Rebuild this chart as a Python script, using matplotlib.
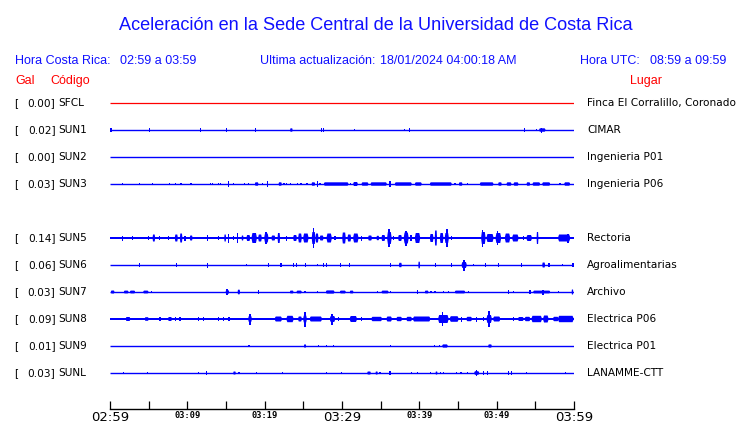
import matplotlib
matplotlib.use("Agg")
import matplotlib.pyplot as plt
from matplotlib.patches import Polygon

# ---------------- data ----------------
title = "Aceleración en la Sede Central de la Universidad de Costa Rica"
hora_cr = "02:59 a 03:59"
actualizacion = "18/01/2024 04:00:18 AM"
hora_utc = "08:59 a 09:59"

codes = ["SFCL", "SUN1", "SUN2", "SUN3", "SUN5", "SUN6", "SUN7", "SUN8", "SUN9", "SUNL"]
gal = [0.00, 0.02, 0.00, 0.03, 0.14, 0.06, 0.03, 0.09, 0.01, 0.03]
places = ["Finca El Corralillo, Coronado", "CIMAR", "Ingenieria P01", "Ingenieria P06",
          "Rectoria", "Agroalimentarias", "Archivo", "Electrica P06", "Electrica P01", "LANAMME-CTT"]
slots = [0, 1, 2, 3, 5, 6, 7, 8, 9, 10]          # SUN4 row is empty
trace_colors = ["#ff0000"] + ["#0000ff"] * 9
noise = [0, 0, 0, 0, 1.4, 0, 0, 1.4, 0, 0]        # background noise band (half width)

tick_minutes = list(range(0, 61, 5))
tick_labels = ["02:59", "", "03:09", "", "03:19", "", "03:29", "", "03:39", "", "03:49", "", "03:59"]
major_labels = ["02:59", "03:29", "03:59"]

# events: (start minute, end minute, half amplitude)
ev_SFCL = []
ev_SUN1 = [(0.13, 0.13, 1.7), (5.08, 5.08, 1.7), (11.73, 11.73, 1.7), (15.04, 15.04, 1.7),
           (18.79, 18.79, 1.7), (23.3, 23.6, 1.7), (27.37, 27.37, 1.7), (27.58, 27.58, 1.7),
           (31.59, 31.59, 1.4), (38.05, 38.05, 1.0), (38.70, 38.70, 1.7), (53.57, 53.57, 1.7),
           (55.17, 55.17, 1.4), (55.5, 56.3, 1.7), (55.8, 55.8, 2.5)]
ev_SUN2 = []
ev_SUN3 = [(1.60, 1.60, 1.0), (3.79, 3.79, 1.4), (5.47, 5.47, 0.8), (7.67, 7.67, 0.8), (8.49, 8.49, 1.4),
           (9.18, 9.18, 1.4), (10.47, 10.47, 1.4), (12.97, 12.97, 1.0), (13.23, 13.23, 1.0),
           (14.01, 14.01, 1.4), (14.31, 14.31, 1.4), (15.30, 15.30, 2.7), (15.95, 15.95, 1.4),
           (17.37, 17.37, 1.4), (17.89, 17.89, 1.4), (18.75, 19.18, 1.7), (19.74, 19.74, 1.4),
           (20.35, 20.35, 2.7), (21.81, 22.20, 1.7), (22.50, 22.50, 1.4), (22.84, 22.84, 1.4),
           (23.32, 23.32, 0.8), (24.22, 24.22, 1.0), (24.70, 24.70, 1.4), (25.47, 25.47, 1.4),
           (26.08, 26.51, 1.7), (26.81, 26.81, 2.7), (27.15, 27.15, 1.4), (27.67, 30.82, 1.7),
           (31.12, 31.12, 1.4), (31.46, 32.03, 2.0), (32.54, 33.40, 1.7), (33.71, 35.78, 1.7),
           (36.21, 36.21, 2.7), (36.85, 39.01, 1.7), (39.44, 40.30, 1.7), (41.38, 44.18, 1.7),
           (44.61, 44.61, 1.0), (45.13, 45.56, 1.7), (46.25, 46.25, 0.8), (47.84, 49.57, 1.7),
           (50.21, 50.64, 1.7), (51.29, 51.90, 1.7), (52.20, 52.80, 1.7), (53.88, 54.31, 1.7),
           (54.65, 55.60, 1.7), (55.90, 56.90, 1.7), (58.19, 58.19, 1.4), (58.75, 59.48, 1.7)]
ev_SUN5 = [(1.59, 1.59, 2.5), (2.89, 2.89, 1.8), (4.96, 4.96, 2.2), (5.52, 5.82, 3.5), (6.38, 6.38, 2.2),
           (7.54, 7.54, 1.8), (8.40, 8.75, 3.5), (9.05, 9.35, 4.5), (9.70, 9.70, 2.5),
           (10.34, 10.65, 2.5), (12.59, 12.59, 3), (14.01, 14.01, 2.2), (14.78, 15.00, 3.5),
           (15.30, 15.43, 4.5), (15.95, 15.95, 2.2), (16.47, 16.59, 5), (17.03, 17.24, 2.5),
           (17.67, 18.10, 3), (18.32, 18.97, 5), (19.18, 19.61, 3.5), (19.96, 20.47, 4.5),
           (20.2, 20.2, 6), (20.90, 21.34, 2.5), (21.68, 21.98, 5), (22.84, 22.84, 2.5),
           (23.71, 24.14, 3), (24.35, 24.78, 4.5), (25.00, 25.65, 4.5), (26.10, 26.55, 6),
           (26.3, 26.3, 10), (26.59, 26.94, 4.5), (27.15, 27.58, 2.5), (28.02, 28.66, 4.5),
           (29.09, 29.09, 2.2), (30.04, 30.47, 5.5), (30.73, 31.16, 3.5), (31.46, 32.11, 4.5),
           (32.54, 32.54, 2.5), (33.40, 33.84, 2.5), (34.48, 34.78, 2.2), (35.13, 35.56, 3),
           (35.85, 36.40, 6), (36.1, 36.1, 9), (36.64, 36.64, 2.2), (37.28, 37.72, 3),
           (38.00, 38.60, 5.5), (38.3, 38.3, 7.5), (38.92, 38.92, 3), (39.44, 40.09, 5),
           (41.38, 41.81, 4), (42.00, 42.28, 7.5), (42.67, 43.10, 5), (43.30, 43.80, 5),
           (43.55, 43.55, 9), (44.18, 44.18, 2.2), (48.00, 48.55, 6), (48.2, 48.2, 8.5),
           (48.71, 49.57, 4), (49.87, 50.56, 5), (50.1, 50.1, 7), (51.08, 51.72, 4.5),
           (52.03, 52.80, 3.5), (53.45, 53.45, 2.2), (53.88, 54.53, 3), (55.17, 55.39, 6),
           (57.97, 59.48, 3.5), (59.2, 59.2, 4.5)]
ev_SUN6 = [(3.79, 3.79, 2), (8.62, 8.62, 2), (12.59, 12.59, 2.5), (17.67, 17.67, 1),
           (20.47, 20.47, 2.2), (22.11, 22.11, 2.2), (23.71, 23.71, 2), (24.14, 24.14, 2),
           (25.26, 25.26, 2), (26.81, 26.81, 1), (27.58, 27.58, 2), (28.02, 28.02, 2),
           (29.83, 29.83, 2), (30.99, 30.99, 2), (36.29, 36.29, 2), (37.37, 37.72, 2.2),
           (39.87, 40.09, 3.3), (42.07, 42.07, 2), (44.18, 44.18, 2.2), (45.47, 46.12, 3),
           (45.75, 45.75, 5.5), (46.98, 46.98, 1.2), (48.58, 48.58, 2), (50.21, 50.21, 2),
           (53.23, 53.23, 2.2), (55.90, 56.25, 2.5), (56.77, 56.77, 2.2), (58.49, 58.49, 1.2),
           (59.85, 59.85, 2.2)]
ev_SUN7 = [(0.13, 0.56, 1.5), (1.81, 2.37, 1.4), (2.59, 3.23, 1.4), (4.31, 4.96, 1.4),
           (5.39, 5.39, 1.0), (14.96, 15.39, 1.8), (15.1, 15.1, 2.7), (16.51, 16.81, 2.3),
           (19.18, 19.18, 1.6), (23.28, 23.71, 1.4), (24.14, 24.78, 1.4), (25.22, 25.22, 1.4),
           (26.81, 26.81, 1.4), (27.93, 29.01, 1.6), (29.74, 30.47, 1.4), (31.03, 31.46, 1.4),
           (34.61, 34.61, 0.8), (35.13, 36.00, 1.4), (36.29, 36.29, 1.0), (39.74, 39.74, 1.6),
           (40.73, 41.16, 1.4), (41.51, 41.51, 0.8), (42.03, 42.03, 1.4), (43.10, 43.10, 0.8),
           (43.75, 43.75, 1.0), (44.61, 45.90, 1.4), (46.33, 46.33, 1.0), (51.51, 51.51, 2.3),
           (52.15, 52.15, 0.8), (54.31, 54.31, 1.6), (54.74, 56.90, 1.4), (55.98, 55.98, 2.5),
           (57.97, 57.97, 0.8), (59.70, 59.90, 2.5)]
ev_SUN8 = [(2.07, 2.59, 2.0), (4.53, 4.96, 1.8), (6.47, 6.47, 2.0), (7.54, 7.97, 2.0), (8.49, 8.49, 2.2),
           (9.05, 9.05, 2.2), (11.42, 11.42, 2.2), (12.07, 12.07, 2.2), (14.01, 14.01, 2.2),
           (14.66, 14.66, 2.2), (15.39, 15.39, 2.0), (17.89, 18.32, 3), (18.1, 18.1, 5.5),
           (21.34, 22.20, 2.5), (22.84, 23.71, 3.2), (24.35, 24.78, 2.5), (25.00, 25.43, 3.5),
           (25.2, 25.2, 7.5), (25.86, 27.37, 2.5), (28.45, 29.09, 3), (28.7, 28.7, 5.5),
           (29.53, 29.53, 2.2), (31.03, 31.90, 3), (32.54, 32.54, 2), (33.84, 35.13, 2.2),
           (35.78, 36.42, 2.5), (37.07, 37.72, 2.2), (38.36, 39.01, 2.2), (39.22, 41.38, 2.5),
           (42.46, 43.75, 4), (42.97, 42.97, 7), (43.97, 45.04, 2.8), (45.47, 45.47, 2.5),
           (46.12, 46.77, 2.2), (47.41, 47.41, 2.5), (48.28, 48.28, 2), (48.71, 49.35, 4),
           (49.01, 49.01, 8), (49.57, 50.43, 2.5), (52.15, 52.15, 2), (52.80, 53.45, 2),
           (53.66, 54.31, 2.2), (54.53, 55.82, 3.2), (56.03, 56.68, 3.5), (57.32, 57.97, 2.2),
           (57.97, 59.91, 3.2)]
ev_SUN9 = [(17.97, 17.97, 0.8), (25.09, 25.35, 1.6), (26.94, 26.94, 0.8), (28.02, 28.02, 1.4),
           (28.88, 28.88, 0.8), (36.29, 36.29, 1.4), (41.94, 41.94, 0.8), (42.59, 42.59, 1.2),
           (42.97, 43.66, 1.6), (48.92, 49.35, 1.6)]
ev_SUNL = [(1.72, 1.72, 0.8), (4.87, 4.87, 1.4), (11.42, 11.42, 1.0), (12.50, 12.50, 2.0),
           (15.95, 16.25, 1.5), (16.68, 16.68, 1.4), (18.97, 18.97, 0.8), (22.28, 22.28, 1.0),
           (28.02, 28.02, 1.0), (29.96, 29.96, 1.0), (33.28, 33.71, 1.5), (34.35, 34.61, 1.5),
           (34.91, 34.91, 1.4), (36.21, 36.21, 1.6), (39.01, 39.01, 1.4), (39.78, 39.78, 0.8),
           (41.42, 41.42, 1.0), (42.11, 42.33, 1.5), (42.76, 42.76, 1.0), (43.10, 43.10, 1.0),
           (44.83, 44.83, 0.8), (45.39, 45.39, 0.8), (46.25, 46.25, 1.4), (47.11, 47.72, 1.8),
           (47.4, 47.4, 2.7), (48.28, 48.28, 1.6), (48.84, 48.84, 1.6), (51.51, 51.51, 1.6),
           (51.94, 51.94, 1.6), (53.88, 53.88, 1.4), (58.92, 58.92, 1.0)]
events = [ev_SFCL, ev_SUN1, ev_SUN2, ev_SUN3, ev_SUN5, ev_SUN6, ev_SUN7, ev_SUN8, ev_SUN9, ev_SUNL]

# ---------------- figure ----------------
W, H = 740, 423
fig = plt.figure(figsize=(W / 100, H / 100), dpi=100)
fig.patch.set_facecolor("white")

def fx(px):
    return px / W

def fy(py):
    return 1 - py / H

ax_left, ax_right, ax_top, ax_bottom = 110, 574, 92, 409
ax = fig.add_axes([fx(ax_left), fy(ax_bottom), (ax_right - ax_left) / W, (ax_bottom - ax_top) / H])
ax.set_xlim(0, 60)
ax.set_ylim(ax_bottom, ax_top)   # y in pixel rows
ax.set_facecolor("none")

row0, row_step = 103, 27
min_w = 0.19
for code, slot, col, nz, evs in zip(codes, slots, trace_colors, noise, events):
    yc = row0 + row_step * slot
    if nz > 0:
        ax.fill_between([0, 60], yc - nz, yc + nz, color=col, lw=0)
    else:
        ax.plot([0, 60], [yc, yc], color=col, lw=0.9 if code == "SFCL" else 1.0,
                solid_capstyle="butt")
    for t0, t1, a in evs:
        if t1 - t0 < min_w:
            ax.bar(t0 - min_w / 2, 2 * a, width=min_w, bottom=yc - a,
                   align="edge", color=col, lw=0)
        else:
            w = t1 - t0
            base = max(nz, 0.8)
            r = min(0.15 * w, 0.1)
            pts = [(t0, yc - base), (t0 + r, yc - a), (t1 - r, yc - a), (t1, yc - base),
                   (t1, yc + base), (t1 - r, yc + a), (t0 + r, yc + a), (t0, yc + base)]
            ax.add_patch(Polygon(pts, closed=True, color=col, lw=0))

for s in ["top", "left", "right"]:
    ax.spines[s].set_visible(False)
ax.spines["bottom"].set_linewidth(1.0)
ax.set_yticks([])
ax.set_xticks(tick_minutes)
ax.set_xticklabels(tick_labels)
ax.tick_params(axis="x", direction="in", length=6, width=0.9, pad=1.5, colors="black")
for lab in ax.get_xticklabels():
    if lab.get_text() in major_labels:
        lab.set_fontsize(9.5)
        lab.set_family("DejaVu Sans")
    else:
        lab.set_fontsize(6.2)
        lab.set_family("DejaVu Sans Mono")
        lab.set_fontweight("bold")

# ---------------- texts ----------------
blue = "#1010ff"
red = "#ff0000"
hfont = "Liberation Sans"
hs = 9.0
fig.text(fx(376), fy(30), title, color=blue, fontsize=13.1, family=hfont, ha="center", va="baseline")
fig.text(fx(15), fy(61), "Hora Costa Rica:", color=blue, fontsize=hs, family=hfont, va="center")
fig.text(fx(120), fy(61), hora_cr, color=blue, fontsize=hs, family=hfont, va="center")
fig.text(fx(260), fy(61), "Ultima actualización:", color=blue, fontsize=hs, family=hfont, va="center")
fig.text(fx(380), fy(61), actualizacion, color=blue, fontsize=hs, family=hfont, va="center")
fig.text(fx(580), fy(61), "Hora UTC:", color=blue, fontsize=hs, family=hfont, va="center")
fig.text(fx(650), fy(61), hora_utc, color=blue, fontsize=hs, family=hfont, va="center")
fig.text(fx(15), fy(81), "Gal", color=red, fontsize=hs, family=hfont, va="center")
fig.text(fx(50), fy(81), "Código", color=red, fontsize=hs, family=hfont, va="center")
fig.text(fx(646), fy(81), "Lugar", color=red, fontsize=hs, family=hfont, va="center", ha="center")

lfont = "DejaVu Sans"
ls = 7.6
for code, g, place, slot in zip(codes, gal, places, slots):
    yc = row0 + row_step * slot
    fig.text(fx(14), fy(yc), "[", fontsize=ls, family=lfont, va="center", color="black")
    fig.text(fx(55.5), fy(yc), f"{g:.2f}]", fontsize=ls, family=lfont, va="center", ha="right", color="black")
    fig.text(fx(58), fy(yc), code, fontsize=ls, family=lfont, va="center", color="black")
    fig.text(fx(587), fy(yc), place, fontsize=ls, family=lfont, va="center", color="black")

fig.savefig("out.png", dpi=100, facecolor="white")
